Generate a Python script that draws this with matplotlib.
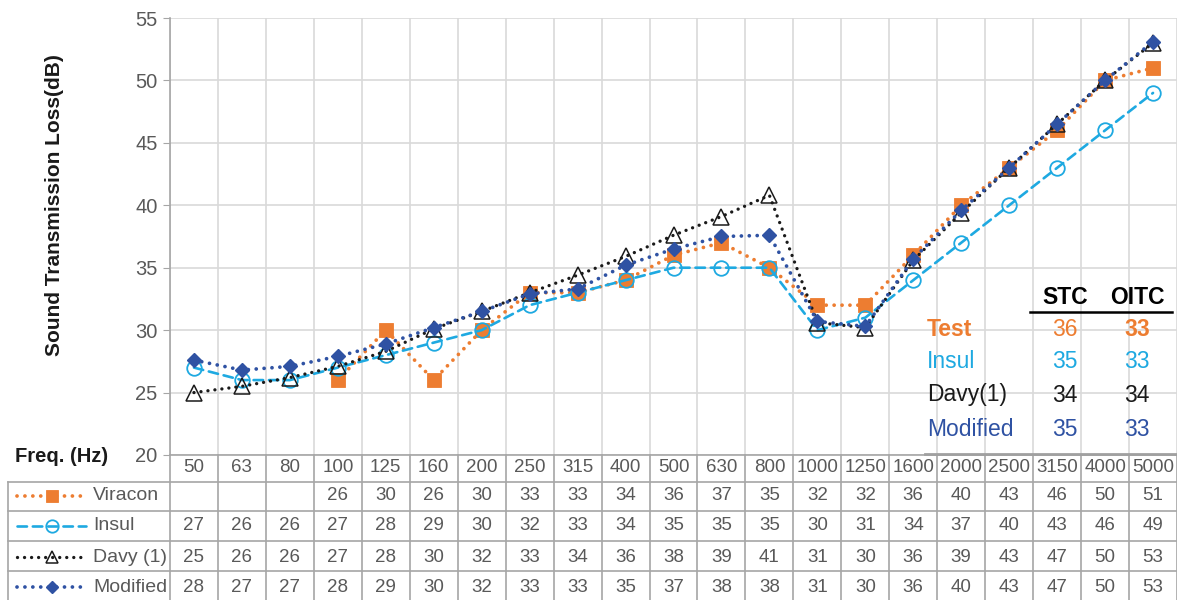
import matplotlib.pyplot as plt
import numpy as np
from matplotlib.lines import Line2D

plt.rcParams["font.family"] = ["Liberation Sans", "DejaVu Sans"]

freqs = ["50", "63", "80", "100", "125", "160", "200", "250", "315", "400", "500",
         "630", "800", "1000", "1250", "1600", "2000", "2500", "3150", "4000", "5000"]
viracon = [np.nan, np.nan, np.nan, 26, 30, 26, 30, 33, 33, 34, 36,
           37, 35, 32, 32, 36, 40, 43, 46, 50, 51]
insul = [27, 26, 26, 27, 28, 29, 30, 32, 33, 34, 35,
         35, 35, 30, 31, 34, 37, 40, 43, 46, 49]
davy = [25.0, 25.5, 26.2, 27.1, 28.3, 30.1, 31.5, 33.0, 34.4, 35.9, 37.6,
        39.1, 40.8, 30.6, 30.2, 35.6, 39.4, 43.0, 46.5, 50.0, 53.0]
modified = [27.6, 26.8, 27.1, 27.9, 28.9, 30.2, 31.5, 32.9, 33.3, 35.2, 36.5,
            37.5, 37.6, 30.7, 30.3, 35.7, 39.6, 43.0, 46.5, 50.0, 53.1]

rating_names = ["Test", "Insul", "Davy(1)", "Modified"]
stc = [36, 35, 34, 35]
oitc = [33, 33, 34, 33]

ORANGE = "#ED7D31"
LBLUE = "#1EA9E1"
DBLUE = "#2F52A3"
GRID = "#D9D9D9"
BORDER = "#A6A6A6"
TXT = "#595959"

W, H = 1177, 600
fig = plt.figure(figsize=(W / 100, H / 100), dpi=100)
fig.set_facecolor("white")

# plot area in pixels
left, right, top, bottom = 170, 1177, 18, 455
ax = fig.add_axes([left / W, 1 - bottom / H, (right - left) / W, (bottom - top) / H])
n = len(freqs)
x = np.arange(n)
cw = (right - left) / n

dot = (0, (0.01, 2.1))
series = [
    ("Viracon", viracon, ORANGE, dot, 2.7, "s", 10, ORANGE, 0.6),
    ("Insul", insul, LBLUE, (0, (3.6, 2.2)), 1.9, "o", 10.5, "none", 1.3),
    ("Davy (1)", davy, "#1a1a1a", dot, 2.4, "^", 11, "none", 1.1),
    ("Modified", modified, DBLUE, dot, 2.7, "D", 7.5, DBLUE, 1.0),
]
for i, (name, vals, col, ls, lw, mk, ms, mfc, mew) in enumerate(series):
    ax.plot(x, vals, color=col, linestyle=ls, linewidth=lw, dash_capstyle="round",
            marker=mk, markersize=ms, markerfacecolor=mfc, markeredgecolor=col,
            markeredgewidth=mew, zorder=3 + i, clip_on=False)

ax.set_xlim(-0.5, n - 0.5)
ax.set_ylim(20, 55)
ax.set_yticks(np.arange(20, 56, 5))
ax.set_xticks(np.arange(-0.5, n, 1))
ax.tick_params(axis="x", length=0, labelbottom=False)
ax.tick_params(axis="y", length=5, color=BORDER, labelcolor=TXT, labelsize=14.5, pad=4)
ax.grid(True, color=GRID, linewidth=1.2)
ax.set_axisbelow(True)
for s in ["top", "right"]:
    ax.spines[s].set_visible(False)
for s in ["left", "bottom"]:
    ax.spines[s].set_color(BORDER)
    ax.spines[s].set_linewidth(1.2)

fig.text(55 / W, 1 - 205 / H, "Sound Transmission Loss(dB)", rotation=90,
         ha="center", va="center", fontsize=15, fontweight="bold", color="#1a1a1a")

# data table under the plot
tleft = 8
tax = fig.add_axes([tleft / W, 0, (right - tleft) / W, (H - bottom) / H])
tax.set_xlim(-0.5 - (left - tleft) / cw, n - 0.5)
tax.set_ylim(H - bottom, 0)
tax.axis("off")

row_edges = [0, 27, 56, 86, 116, 145]
row_mid = [12, 41, 71, 102, 132]
xl = -0.5 - (left - tleft) / cw

for e in np.arange(-0.5, n, 1):
    tax.plot([e, e], [0, 145], color=BORDER, lw=1.2, clip_on=False)
tax.plot([xl, xl], [27, 145], color=BORDER, lw=1.2, clip_on=False)
for r in row_edges[1:-1]:
    tax.plot([xl, n - 0.5], [r, r], color=BORDER, lw=1.2, clip_on=False)

for i, f in enumerate(freqs):
    tax.text(i, row_mid[0], f, ha="center", va="center", fontsize=13.5, color=TXT)

def px(p):
    return -0.5 + (p - left) / cw

for r, (name, vals, col, ls, lw, mk, ms, mfc, mew) in enumerate(series):
    y = row_mid[r + 1]
    tax.add_line(Line2D([px(17), px(86)], [y, y], color=col, linestyle=ls,
                        linewidth=lw, dash_capstyle="round"))
    tax.plot([px(52)], [y], marker=mk, markersize=ms * 0.85, markerfacecolor=mfc,
             markeredgecolor=col, markeredgewidth=mew, linestyle="none")
    tax.text(px(93), y, name, ha="left", va="center", fontsize=14, color=TXT)
    for i, v in enumerate(vals):
        if np.isnan(v):
            continue
        tax.text(i, y, str(int(np.floor(v + 0.5))), ha="center", va="center",
                 fontsize=13.5, color=TXT)

fig.text(15 / W, 1 - 457 / H, "Freq. (Hz)", ha="left", va="center",
         fontsize=14.5, fontweight="bold", color="#1a1a1a")

# STC / OITC ratings
fig.add_artist(Line2D([925 / W, 1177 / W], [1 - 454 / H, 1 - 454 / H],
                      color="#A0A0A0", lw=2))
fig.text(1065 / W, 1 - 297 / H, "STC", ha="center", va="center",
         fontsize=16.5, fontweight="bold", color="black")
fig.text(1137 / W, 1 - 297 / H, "OITC", ha="center", va="center",
         fontsize=16.5, fontweight="bold", color="black")
fig.add_artist(Line2D([1030 / W, 1172 / W], [1 - 312 / H, 1 - 312 / H],
                      color="black", lw=1.8))
rating_colors = [ORANGE, LBLUE, "#1a1a1a", DBLUE]
rating_y = [330, 362, 395, 429]
for name, s, o, c, yy in zip(rating_names, stc, oitc, rating_colors, rating_y):
    w = "bold" if name == "Test" else "normal"
    fig.text(927 / W, 1 - yy / H, name, ha="left", va="center",
             fontsize=16.5, fontweight=w, color=c)
    fig.text(1065 / W, 1 - yy / H, str(s), ha="center", va="center",
             fontsize=16.5, color=c)
    fig.text(1137 / W, 1 - yy / H, str(o), ha="center", va="center",
             fontsize=16.5, fontweight=w, color=c)

plt.savefig("out.png", dpi=100)
